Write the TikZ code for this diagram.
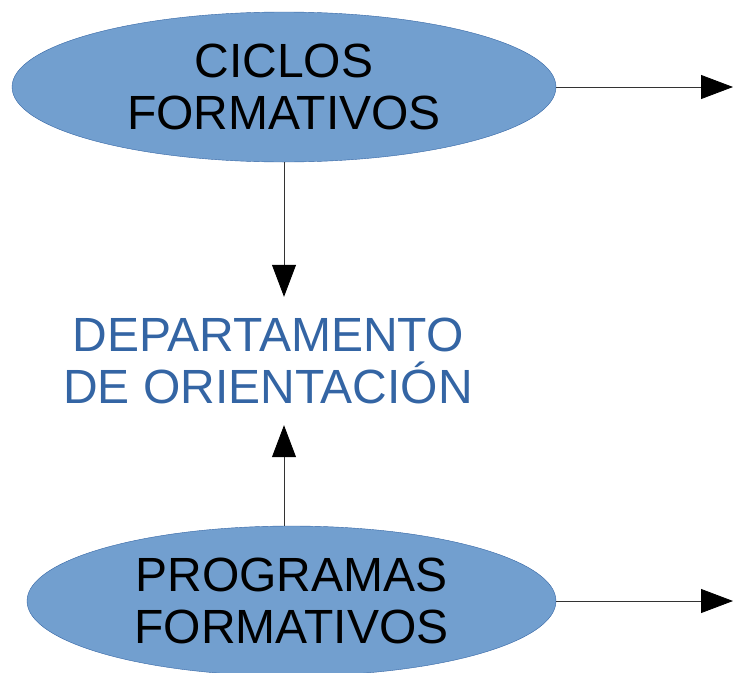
\documentclass[tikz,border=0pt]{standalone}
\usepackage{fontspec}
\setmainfont{Liberation Sans}
\usepackage{xcolor}
\usetikzlibrary{shapes.geometric}
\usetikzlibrary{arrows.meta}
\definecolor{ovalfill}{HTML}{729FCF}
\definecolor{ovalline}{HTML}{3465A4}
\tikzset{
  oval/.style = {ellipse, draw=ovalline, fill=ovalfill, inner sep=0pt,
    minimum height=150pt, align=center, text=black,
    font=\fontsize{48}{52}\selectfont},
  arr/.style = {-{Triangle[length=32pt,width=24pt,color=black]}, line width=0.8pt, draw=black!80}
}

\begin{document}
\begin{tikzpicture}[x=1pt,y=-1pt]
  \useasboundingbox (0,0) rectangle (733,672);
  %%% ovals
  \node[oval, minimum width=544pt] (ciclos) at (284,87) {CICLOS\\FORMATIVOS};
  \node[oval, minimum width=529pt] (programas) at (291.5,601) {PROGRAMAS\\FORMATIVOS};
  %%% centre text
  \node[align=center, text=ovalline, minimum height=128pt, inner sep=0pt,
    font=\fontsize{48}{52}\selectfont] (depto) at (268,361)
    {DEPARTAMENTO\\DE ORIENTACIÓN};
  %%% loose ends
  \coordinate (ciclosout) at (733,87);
  \coordinate (programasout) at (733,601);
  %%% arrows
  \draw[arr] (ciclos.east) -- (ciclosout);
  \draw[arr] (programas.east |- programasout) -- (programasout);
  \draw[arr] (ciclos.south) -- (ciclos.south |- depto.north);
  \draw[arr] (ciclos.south |- programas.north) -- (ciclos.south |- depto.south);
\end{tikzpicture}
\end{document}
